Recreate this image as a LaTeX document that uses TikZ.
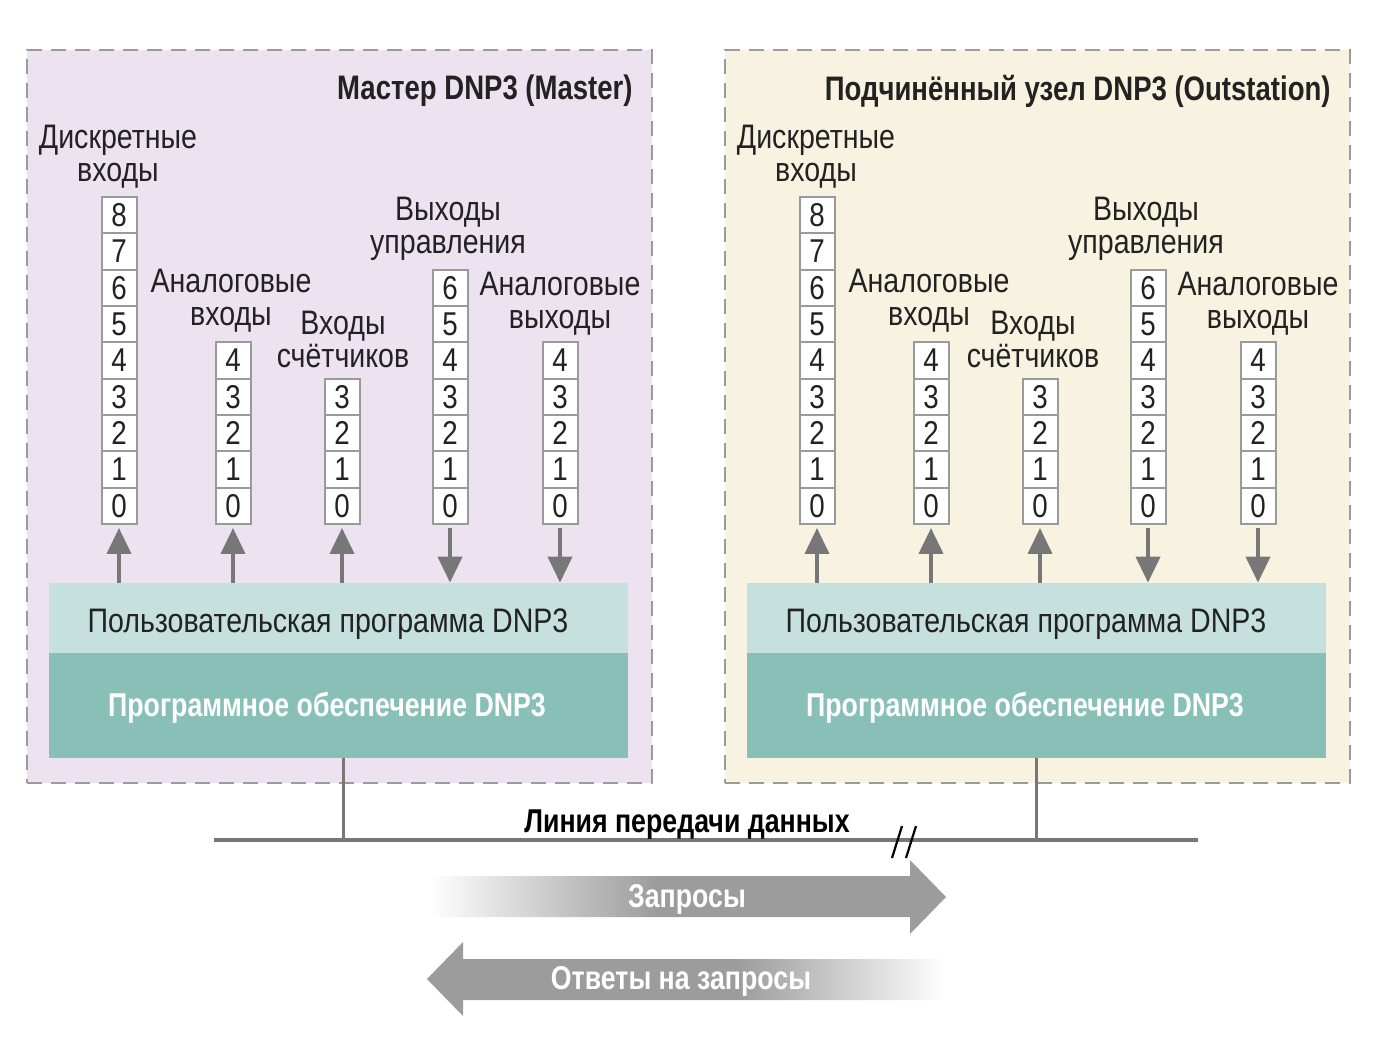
\documentclass[tikz,border=0pt]{standalone}
\usepackage{fontspec}
\setmainfont{Liberation Sans}[FakeStretch=0.84]
\newfontfamily\condbold{Liberation Sans Bold}[FakeStretch=0.81]
\usetikzlibrary{arrows.meta}
\definecolor{masterbg}{HTML}{EDE3F0}
\definecolor{slavebg}{HTML}{F8F3E1}
\definecolor{dashgray}{HTML}{9B9B9B}
\definecolor{cellgray}{HTML}{9A9A9A}
\definecolor{linkgray}{HTML}{777777}
\definecolor{userband}{HTML}{C6E1DD}
\definecolor{softband}{HTML}{88BFB7}
\definecolor{bigarrow}{HTML}{9C9C9C}
\definecolor{txt}{HTML}{222222}
\pgfdeclarehorizontalshading{fadeR}{100bp}{color(0bp)=(white); color(25bp)=(white); color(47bp)=(bigarrow); color(100bp)=(bigarrow)}
\pgfdeclarehorizontalshading{fadeL}{100bp}{color(0bp)=(bigarrow); color(55bp)=(bigarrow); color(75bp)=(white); color(100bp)=(white)}
\tikzset{
  stationbox/.style={draw=dashgray, line width=1pt, dash pattern=on 7.5pt off 4.5pt, minimum width=312.5pt, minimum height=366.5pt, inner sep=0pt},
  titletext/.style={anchor=east, inner sep=0pt, yshift=-1.5pt, text=txt, font=\condbold\fontsize{17}{17}\selectfont},
  lbl/.style={align=center, inner sep=0pt, yshift=-1.5pt, text=txt, font=\fontsize{17}{16.5}\selectfont},
  cell/.style={draw=cellgray, line width=1pt, fill=white, minimum width=17.5pt, minimum height=18.17pt, inner sep=0pt, text=txt, font=\fontsize{16.5}{16.5}\selectfont},
  ioarrow/.style={draw=linkgray, line width=2pt, -{Triangle[width=12pt,length=13pt]}},
  band/.style={minimum width=289.5pt, inner sep=0pt, draw=none},
  bandtext/.style={inner sep=0pt, yshift=-1.5pt, text=txt, font=\fontsize{17}{17}\selectfont},
  softtext/.style={inner sep=0pt, yshift=-1.5pt, text=white, font=\condbold\fontsize{16.5}{16.5}\selectfont},
  link/.style={draw=linkgray, line width=1.5pt},
  bus/.style={draw=linkgray, line width=2pt},
  slash/.style={draw=black, line width=1.1pt},
  bigtext/.style={inner sep=0pt, yshift=-1.5pt, text=white, font=\condbold\fontsize{16.5}{16.5}\selectfont},
  buslabel/.style={inner sep=0pt, yshift=-1.5pt, text=black, font=\condbold\fontsize{16.5}{16.5}\selectfont},
}
% #1 prefix, #2 max digit, #3 x
\newcommand\regcolumn[3]{%
  \foreach \d in {0,...,#2}{\node[cell] (#1-\d) at (#3, 505.8-36.33*\d) {\d};}%
}
% #1 prefix, #2 shift, #3 title, #4 counter label x, #5 bg
\newcommand\station[5]{%
\begin{scope}[xshift=#2]
  \node[stationbox, fill=#5] (#1-box) at (339.5,416.5) {};
  \node[titletext] (#1-title) at (633,88) {#3};
  \node[lbl] (#1-lbl-di) at (118,153.5) {Дискретные\\входы};
  \node[lbl] (#1-lbl-ai) at (231,298) {Аналоговые\\входы};
  \node[lbl] (#1-lbl-ci) at (#4,336) {Входы\\счётчиков};
  \node[lbl] (#1-lbl-co) at (448,225.5) {Выходы\\управления};
  \node[lbl] (#1-lbl-ao) at (560,301) {Аналоговые\\выходы};
  \regcolumn{#1-di}{8}{119}
  \regcolumn{#1-ai}{4}{233}
  \regcolumn{#1-ci}{3}{342}
  \regcolumn{#1-co}{6}{450}
  \regcolumn{#1-ao}{4}{560}
  \node[band, fill=userband, minimum height=35pt] (#1-user) at (338.5,618) {};
  \node[band, fill=softband, minimum height=52.5pt] (#1-soft) at (338.5,705.5) {};
  \node[bandtext] (#1-usertext) at (328,621) {Пользовательская программа DNP3};
  \node[softtext] (#1-softtext) at (327,705) {Программное обеспечение DNP3};
  \draw[ioarrow, shorten >=1.5pt] (#1-user.north -| #1-di-0) -- (#1-di-0.south);
  \draw[ioarrow, shorten >=1.5pt] (#1-user.north -| #1-ai-0) -- (#1-ai-0.south);
  \draw[ioarrow, shorten >=1.5pt] (#1-user.north -| #1-ci-0) -- (#1-ci-0.south);
  \draw[ioarrow, shorten <=1.5pt] (#1-co-0.south) -- (#1-user.north -| #1-co-0);
  \draw[ioarrow, shorten <=1.5pt] (#1-ao-0.south) -- (#1-user.north -| #1-ao-0);
\end{scope}}
\begin{document}
\begin{tikzpicture}[x=0.5pt,y=-0.5pt]
\useasboundingbox (0,0) rectangle (1376,1059);
\fill[white] (0,0) rectangle (1376,1059);
\station{M}{0pt}{Мастер DNP3 (Master)}{343}{masterbg}
\station{O}{349pt}{Подчинённый узел DNP3 (Outstation)}{335}{slavebg}
% bus
\coordinate (bus-l) at (214,840);
\coordinate (bus-r) at (1198,840);
\coordinate (M-tap) at (343,840);
\coordinate (O-tap) at (1036,840);
\draw[link] (M-soft.south -| M-tap) -- (M-tap);
\draw[link] (O-soft.south -| O-tap) -- (O-tap);
\draw[bus] (bus-l) -- (bus-r);
\node[buslabel] (buslbl) at (687,822) {Линия передачи данных};
\coordinate (s1a) at (892,858); \coordinate (s1b) at (902,826);
\coordinate (s2a) at (906,858); \coordinate (s2b) at (916,826);
\draw[slash] (s1a) -- (s1b);
\draw[slash] (s2a) -- (s2b);
% big arrows
\shade[shading=fadeR] (430,876) -- (910,876) -- (910,860) -- (946,897) -- (910,934) -- (910,917) -- (430,917) -- cycle;
\node[bigtext] (req) at (687,896) {Запросы};
\shade[shading=fadeL] (946,959) -- (463,959) -- (463,942) -- (427,979) -- (463,1016) -- (463,1000) -- (946,1000) -- cycle;
\node[bigtext] (resp) at (681,978) {Ответы на запросы};
\end{tikzpicture}
\end{document}
